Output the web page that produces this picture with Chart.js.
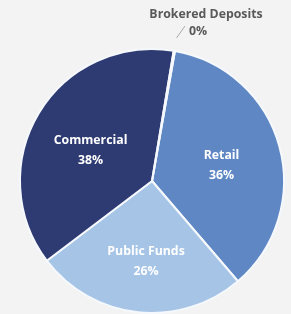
<!DOCTYPE html>
<html>
<head>
<meta charset="utf-8">
<script src="https://cdn.jsdelivr.net/npm/chart.js@4"></script>
<style>
html,body{margin:0;padding:0;background:#f3f3f3;}
#wrap{width:291px;height:314px;position:relative;}
</style>
</head>
<body>
<div id="wrap"><canvas id="c" width="291" height="314"></canvas></div>
<script>
const categories = ["Retail", "Public Funds", "Commercial", "Brokered Deposits"];
const values = [36, 26, 38, 0.15];
const percentLabels = ["36%", "26%", "38%", "0%"];
const colors = ["#5e87c4", "#a6c4e6", "#2e3a72", "#b0b0b0"];

const labelPlugin = {
  id: 'sliceLabels',
  afterDatasetsDraw(chart) {
    const ctx = chart.ctx;
    const meta = chart.getDatasetMeta(0);
    const radF = [0.54, 0.61, 0.52];
    const angOff = [2.4, -1.9, -4.6];
    meta.data.forEach((arc, i) => {
      const p = arc.getProps(['x','y','startAngle','endAngle','outerRadius'], true);
      const mid = (p.startAngle + p.endAngle) / 2;
      ctx.save();
      ctx.textAlign = 'center';
      ctx.textBaseline = 'middle';
      if (i < 3) {
        const a = mid + angOff[i] * Math.PI / 180;
        const lx = p.x + Math.cos(a) * p.outerRadius * radF[i];
        const ly = p.y + Math.sin(a) * p.outerRadius * radF[i];
        ctx.fillStyle = '#ffffff';
        ctx.font = 'bold 12.3px "Open Sans", sans-serif';
        ctx.fillText(categories[i], lx, ly - 9.5);
        ctx.fillText(percentLabels[i], lx, ly + 10);
      } else {
        const x1 = p.x + Math.cos(mid) * p.outerRadius * 1.1;
        const y1 = p.y + Math.sin(mid) * p.outerRadius * 1.1;
        const x2 = p.x + Math.cos(mid + 0.04) * p.outerRadius * 1.2;
        const y2 = p.y + Math.sin(mid + 0.04) * p.outerRadius * 1.2;
        ctx.strokeStyle = '#a8a8a8';
        ctx.lineWidth = 1;
        ctx.beginPath(); ctx.moveTo(x1, y1); ctx.lineTo(x2, y2); ctx.stroke();
        ctx.fillStyle = '#595959';
        ctx.font = 'bold 12.3px "Open Sans", sans-serif';
        ctx.fillText(categories[i], x2 + 21, y2 - 12);
        ctx.fillText(percentLabels[i], x2 + 13, y2 + 5);
      }
      ctx.restore();
    });
  }
};

new Chart(document.getElementById('c'), {
  type: 'pie',
  data: {
    labels: categories,
    datasets: [{
      data: values,
      backgroundColor: colors,
      borderColor: '#f5f8fc',
      borderWidth: 2
    }]
  },
  options: {
    responsive: false,
    animation: false,
    rotation: 10,
    layout: { padding: { top: 48, bottom: 0, left: 19, right: 6 } },
    plugins: { legend: { display: false }, tooltip: { enabled: false } }
  },
  plugins: [labelPlugin]
});
</script>
</body>
</html>
